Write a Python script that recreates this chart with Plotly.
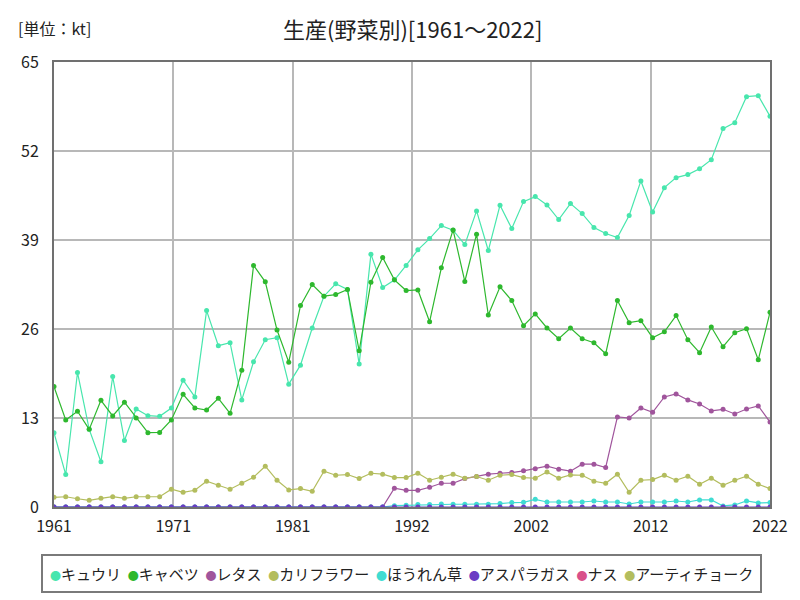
import plotly.graph_objects as go

years = list(range(1961, 2023))

cucumber = [10.85, 4.74, 19.65, 11.34, 6.6, 19.06, 9.72, 14.32, 13.34, 13.24,
            14.46, 18.52, 16.08, 28.69, 23.56, 24.0, 15.64, 21.21, 24.44, 24.73,
            17.94, 20.72, 26.15, 30.79, 32.6, 31.77, 20.87, 36.93, 32.06, 33.14,
            35.29, 37.56, 39.21, 41.1, 40.43, 38.33, 43.25, 37.46, 44.08, 40.67,
            44.61, 45.34, 44.12, 41.98, 44.32, 42.86, 40.81, 39.94, 39.36, 42.57,
            47.63, 43.1, 46.65, 48.11, 48.55, 49.42, 50.74, 55.27, 56.14, 59.94,
            60.08, 57.07]
cabbage = [17.59, 12.71, 13.98, 11.34, 15.59, 13.3, 15.3, 13.0, 10.85, 10.9,
           12.71, 16.47, 14.46, 14.17, 15.88, 13.68, 19.99, 35.29, 32.89, 25.85,
           21.16, 29.42, 32.5, 30.79, 31.03, 31.77, 22.82, 32.84, 36.43, 33.18,
           31.62, 31.7, 27.07, 34.94, 40.47, 32.94, 39.85, 28.05, 32.16, 30.15,
           26.49, 28.2, 26.15, 24.58, 26.15, 24.58, 24.0, 22.38, 30.15, 26.93,
           27.22, 24.73, 25.6, 27.96, 24.44, 22.53, 26.29, 23.41, 25.46, 26.05,
           21.5, 28.44]
lettuce = [0] * 29 + [2.74, 2.44, 2.44, 2.88, 3.47, 3.47, 4.15, 4.45, 4.79, 4.93,
                      5.03, 5.28, 5.57, 5.96, 5.52, 5.23, 6.25, 6.25, 5.77, 13.15,
                      13.0, 14.47, 13.83, 16.08, 16.52, 15.64, 15.05, 14.03, 14.27, 13.59,
                      14.32, 14.76, 12.41]
cauliflower = [1.42, 1.5, 1.2, 0.98, 1.27, 1.5, 1.27, 1.5, 1.5, 1.5,
               2.6, 2.15, 2.44, 3.76, 3.18, 2.6, 3.47, 4.35, 5.96, 3.9,
               2.5, 2.69, 2.3, 5.23, 4.64, 4.74, 4.15, 4.93, 4.79, 4.3,
               4.3, 4.93, 3.91, 4.35, 4.79, 4.2, 4.45, 3.91, 4.64, 4.74,
               4.3, 4.2, 5.13, 4.2, 4.69, 4.64, 3.76, 3.47, 4.79, 2.15,
               3.91, 4.0, 4.64, 3.91, 4.5, 3.32, 4.2, 3.18, 3.91, 4.5,
               3.32, 2.69]
spinach = [0] * 29 + [0.2, 0.25, 0.35, 0.35, 0.44, 0.4, 0.4, 0.4, 0.4, 0.5,
                      0.64, 0.68, 1.12, 0.73, 0.73, 0.73, 0.73, 0.88, 0.73, 0.73,
                      0.44, 0.73, 0.73, 0.73, 0.88, 0.73, 1.03, 1.03, 0.15, 0.3,
                      0.88, 0.59, 0.64]
asparagus = [0] * 62
eggplant = [None] * 62
artichoke = [None] * 62

names = ["キュウリ", "キャベツ", "レタス", "カリフラワー", "ほうれん草", "アスパラガス", "ナス", "アーティチョーク"]
series = [cucumber, cabbage, lettuce, cauliflower, spinach, asparagus, eggplant, artichoke]
colors = ["#48e6ad", "#2eb82e", "#a0559c", "#b3bd5e", "#3fdcd2", "#6a3cc4", "#d9508a", "#b3bd5e"]

tick_labels = ["1961", "1971", "1981", "1992", "2002", "2012", "2022"]
tick_vals = [1961 + 61 / 6 * k for k in range(7)]
y_ticks = [0, 13, 26, 39, 52, 65]

FONT = "Noto Sans CJK JP"

fig = go.Figure()
for name, vals, col in zip(names, series, colors):
    fig.add_trace(go.Scatter(
        x=years, y=vals, name=name, mode="lines+markers",
        line=dict(color=col, width=1.2),
        marker=dict(color=col, size=5),
        showlegend=False,
    ))

legend_text = "  ".join(
    f'<span style="color:{c};font-size:11px">●</span>{n}' for n, c in zip(names, colors)
)

fig.update_layout(
    width=800, height=600,
    margin=dict(l=54, r=28, t=62, b=93),
    paper_bgcolor="white", plot_bgcolor="white",
    font=dict(family=FONT, color="#222", size=15),
    showlegend=False,
    xaxis=dict(
        range=[1961, 2022], tickmode="array", tickvals=tick_vals, ticktext=tick_labels,
        showgrid=True, gridcolor="#b8b8b8", gridwidth=2,
        showline=True, linecolor="#707070", linewidth=2, mirror=True,
        ticks="", tickfont=dict(size=16, family=FONT), zeroline=False,
        ticklabelstandoff=4,
    ),
    yaxis=dict(
        range=[0, 65], tickmode="array", tickvals=y_ticks,
        showgrid=True, gridcolor="#b8b8b8", gridwidth=2,
        showline=True, linecolor="#707070", linewidth=2, mirror=True,
        ticks="", tickfont=dict(size=16, family=FONT), zeroline=False,
        ticklabelstandoff=10,
    ),
    annotations=[
        dict(text="生産(野菜別)[1961～2022]", xref="paper", yref="paper",
             x=0.5, y=1, yshift=34, xanchor="center", yanchor="middle",
             showarrow=False, font=dict(size=22, family=FONT, color="#222")),
        dict(text="[単位：kt]", xref="paper", yref="paper",
             x=-54 / 718, xshift=16, y=1, yshift=34, xanchor="left", yanchor="middle",
             showarrow=False, font=dict(size=16, family=FONT, color="#222")),
        dict(text=legend_text, xref="paper", yref="paper",
             x=(402 - 54) / 718, y=(507 - 573) / 445, xanchor="center", yanchor="middle",
             showarrow=False, font=dict(size=15, family=FONT, color="#222"),
             bordercolor="#7a7a7a", borderwidth=2, borderpad=7, bgcolor="white"),
    ],
)

fig.write_html("out.html")
